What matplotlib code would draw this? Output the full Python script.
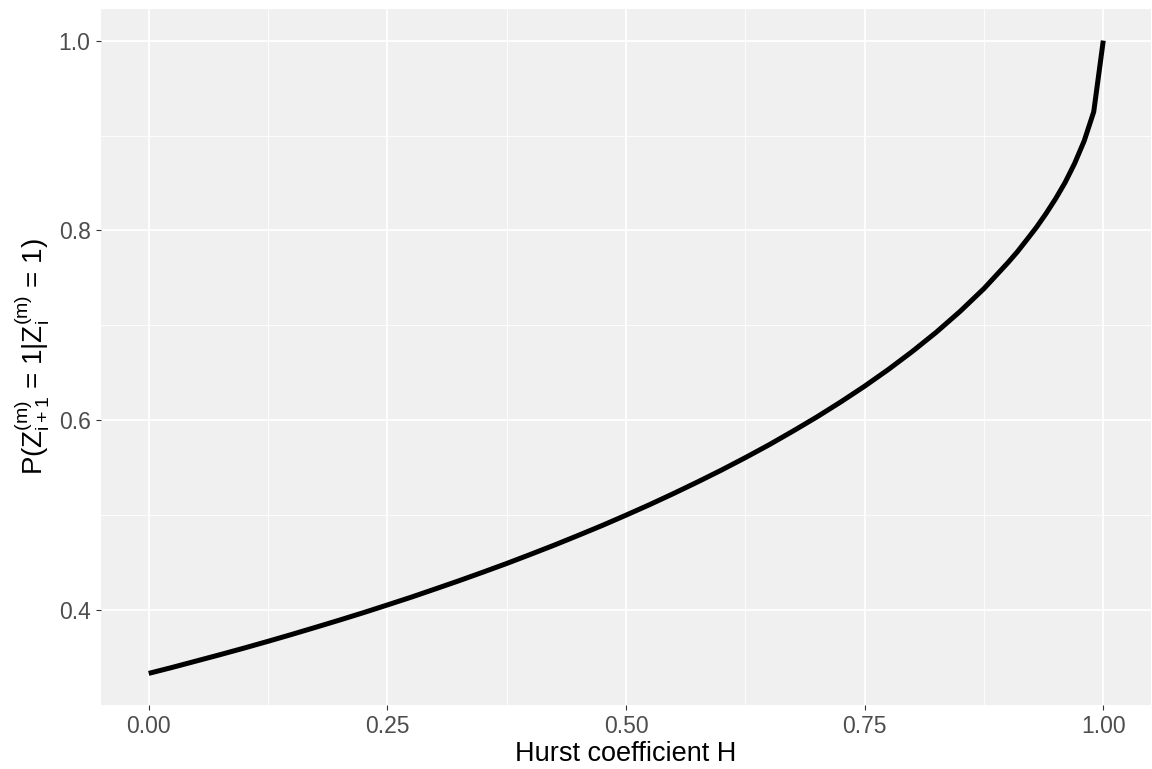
import numpy as np
import matplotlib.pyplot as plt
from matplotlib.ticker import MultipleLocator

plt.rcParams['font.family'] = ['Liberation Sans', 'DejaVu Sans']
plt.rcParams['mathtext.fontset'] = 'custom'
plt.rcParams['mathtext.rm'] = 'Liberation Sans'
plt.rcParams['mathtext.it'] = 'Liberation Sans'
plt.rcParams['mathtext.default'] = 'regular'

# values
hurst = [0.0, 0.025, 0.05, 0.075, 0.10, 0.125, 0.15, 0.175, 0.20, 0.225, 0.25,
         0.275, 0.30, 0.325, 0.35, 0.375, 0.40, 0.425, 0.45, 0.475, 0.50,
         0.525, 0.55, 0.575, 0.60, 0.625, 0.65, 0.675, 0.70, 0.725, 0.75,
         0.775, 0.80, 0.825, 0.85, 0.875, 0.90, 0.91, 0.92, 0.93, 0.94, 0.95,
         0.96, 0.97, 0.98, 0.99, 1.00]
prob = [0.3333, 0.3397, 0.3464, 0.3531, 0.3600, 0.3671, 0.3744, 0.3819, 0.3895,
        0.3973, 0.4054, 0.4136, 0.4222, 0.4309, 0.4399, 0.4491, 0.4587, 0.4685,
        0.4787, 0.4891, 0.5000, 0.5112, 0.5229, 0.5350, 0.5475, 0.5606, 0.5742,
        0.5886, 0.6035, 0.6193, 0.6359, 0.6536, 0.6725, 0.6927, 0.7147, 0.7387,
        0.7659, 0.7775, 0.7903, 0.8033, 0.8177, 0.8333, 0.8505, 0.8706, 0.8943,
        0.9250, 1.0000]

x_ticks = [0.00, 0.25, 0.50, 0.75, 1.00]
x_labels = ['0.00', '0.25', '0.50', '0.75', '1.00']
y_ticks = [0.4, 0.6, 0.8, 1.0]
y_labels = ['0.4', '0.6', '0.8', '1.0']

fig = plt.figure(figsize=(11.52, 7.69), dpi=100)
ax = fig.add_axes([101 / 1152, 1 - 705 / 769, 1050 / 1152, 696 / 769])
ax.set_facecolor('#ebebeb')
ax.patch.set_alpha(0.75)

ax.plot(hurst, prob, color='black', lw=3.6, solid_capstyle='butt',
        solid_joinstyle='round', zorder=3)

ax.set_xlim(-0.05, 1.05)
ax.set_ylim(0.3, 1.0333)
ax.set_xticks(x_ticks)
ax.set_xticklabels(x_labels)
ax.set_yticks(y_ticks)
ax.set_yticklabels(y_labels)
ax.xaxis.set_minor_locator(MultipleLocator(0.125))
ax.yaxis.set_minor_locator(MultipleLocator(0.1))

ax.grid(which='major', color='white', lw=1.3)
ax.grid(which='minor', color='white', lw=0.6)
ax.set_axisbelow(True)
for s in ax.spines.values():
    s.set_visible(False)

ax.tick_params(which='major', length=3.5, width=0.8, color='#333333',
               labelsize=16.5, labelcolor='#4d4d4d', pad=4)
ax.tick_params(which='minor', length=0)

ax.set_xlabel('Hurst coefficient H', fontsize=19.5, labelpad=2)
ax.set_ylabel(r'P(Z$_{i+1}^{(m)}$ = 1|Z$_{i}^{(m)}$ = 1)', fontsize=20, labelpad=5)

fig.savefig('out.png', dpi=100)
